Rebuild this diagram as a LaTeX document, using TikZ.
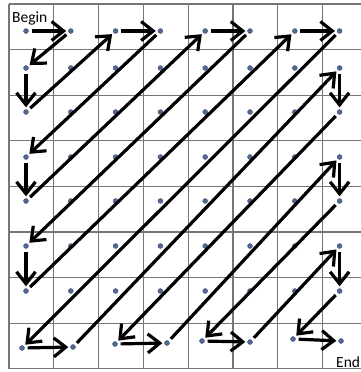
\documentclass[tikz,border=0pt]{standalone}
\usepackage{fontspec}
\setmainfont{Carlito}
\usetikzlibrary{arrows.meta}

\definecolor{dotblue}{RGB}{84,104,148}
\definecolor{gridgray}{RGB}{118,118,118}

\begin{document}
\begin{tikzpicture}[x=1pt, y=-1pt,
  cell/.style={draw=gridgray, line width=1.2pt},
  pix/.style={circle, fill=dotblue, draw=dotblue!70!black, line width=0.3pt,
    inner sep=0pt, minimum size=5pt},
  scan/.style={line width=3.2pt, -{Straight Barb[length=12pt, width=19pt]},
    shorten <=3pt, shorten >=2pt},
  tag/.style={font=\fontsize{15.5}{18}\selectfont, inner sep=0pt}]
  \useasboundingbox (0,0) rectangle (361,372);

  % grid
  \foreach \i in {0,...,7}
    \draw[cell] ({9+44.8*\i},4) -- ({9+44.8*\i},368.8);
  \foreach \j in {0,...,8}
    \draw[cell] (9,{4+45.6*\j}) -- (361,{4+45.6*\j});

  % sample points
  \foreach \r/\y in {0/31, 1/68, 2/112, 3/157, 4/201, 5/246, 6/291}
    \foreach \c in {0,...,7}
      \node[pix] (p\c\r) at ({26+44.8*\c},\y) {};
  \foreach \c/\x/\y in {0/22/348, 1/73/347, 2/115/344, 3/167/343,
                        4/202/341, 5/250/342, 6/293/339, 7/341/341}
    \node[pix] (p\c7) at (\x,\y) {};

  % zigzag scan
  \foreach \a/\b in {00/10, 10/01, 01/02, 02/20, 20/30, 30/03, 03/04, 04/40,
                     40/50, 50/05, 05/06, 06/60, 60/70, 70/07, 07/17, 17/71,
                     71/72, 72/27, 27/37, 37/73, 73/74, 74/47, 47/57, 57/75,
                     75/76, 76/67, 67/77}
    \draw[scan] (p\a) -- (p\b);

  % labels
  \node[tag, anchor=base west] (begin) at (12,22) {Begin};
  \node[tag, anchor=base west] (finish) at (336,367.5) {End};
\end{tikzpicture}
\end{document}
